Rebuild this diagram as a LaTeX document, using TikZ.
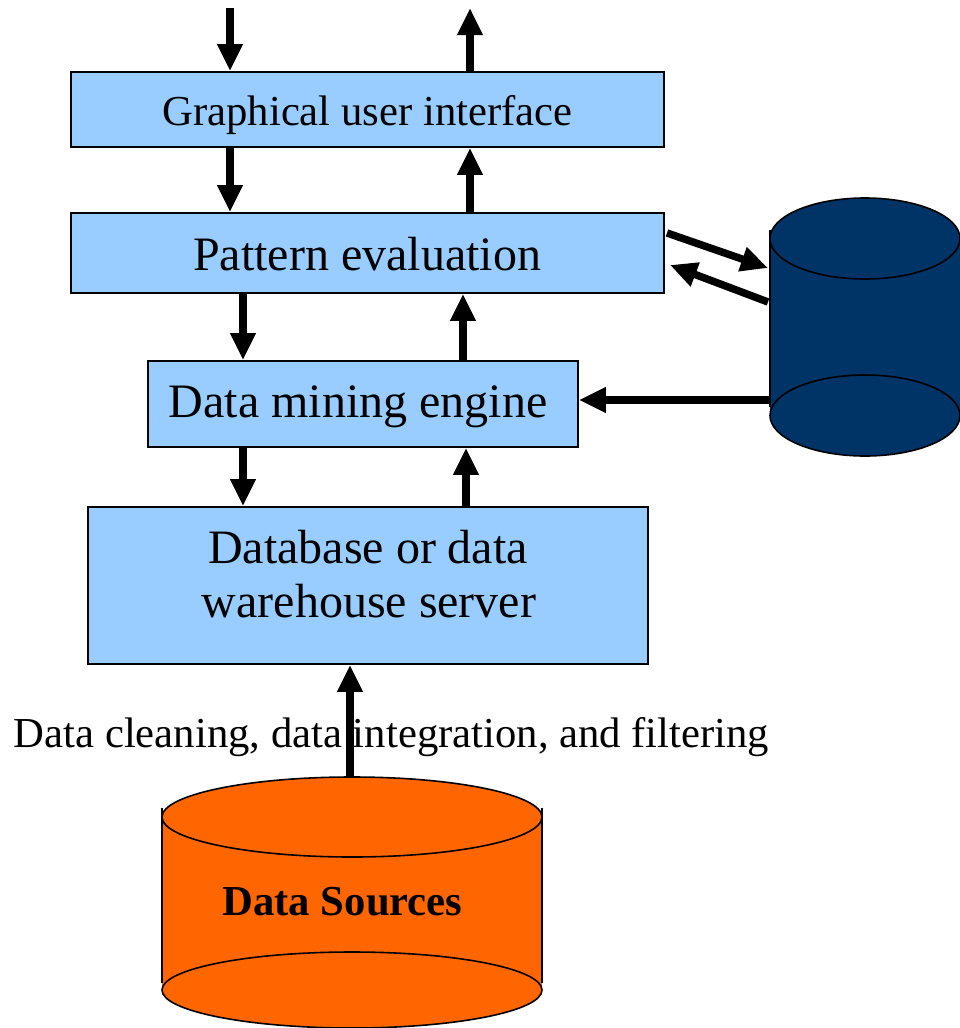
\documentclass[tikz,border=0pt]{standalone}
\usepackage{fontspec}
\setmainfont{Liberation Serif}
\usetikzlibrary{arrows.meta}
\definecolor{boxblue}{HTML}{99CCFF}
\definecolor{navy}{HTML}{003366}
\definecolor{srcorange}{HTML}{FF6600}
\tikzset{
  layer/.style={draw=black, line width=1.6pt, fill=boxblue, inner sep=0pt},
  flow/.style={line width=7.5pt, -{Triangle[length=27pt,width=24pt]}},
  bigtext/.style={font=\fontsize{48}{56}\selectfont},
  midtext/.style={font=\fontsize{42.7}{50}\selectfont},
  drum/.style={draw=black, line width=1.6pt},
}
\begin{document}
\begin{tikzpicture}[x=1pt, y=-1pt]
\useasboundingbox (0,0) rectangle (959,1028);

% processing layers
\node[layer, minimum width=593pt, minimum height=75pt] (gui) at (367.5,109.5) {};
\node[midtext, anchor=base] (guit) at (367.5,125) {Graphical user interface};
\node[layer, minimum width=593pt, minimum height=80pt] (pe) at (367.5,253) {};
\node[bigtext, anchor=base] (pet) at (367,270) {Pattern evaluation};
\node[layer, minimum width=430pt, minimum height=86pt] (dme) at (363,404) {};
\node[bigtext, anchor=base] (dmet) at (358,417) {Data mining engine};
\node[layer, minimum width=560pt, minimum height=157pt] (dbs) at (368,585.5) {};
\node[bigtext, anchor=base] (dbs1) at (368,563) {Database or data};
\node[bigtext, anchor=base] (dbs2) at (369,617) {warehouse server};

% knowledge base drum
\fill[navy] (770,238.5) rectangle (960,415.5);
\draw[drum, fill=navy] (865,415.5) ellipse (95pt and 40.5pt);
\draw[drum] (770,230) -- (770,407);
\draw[drum, fill=navy] (865,238.5) ellipse (95pt and 40.5pt);
\coordinate (kbin) at (768,268);
\coordinate (kbout) at (768,302);
\coordinate (kbside) at (770,400);

% data sources drum
\fill[srcorange] (162,817) rectangle (542,990);
\draw[drum, fill=srcorange] (352,990) ellipse (190pt and 38pt);
\draw[drum] (162,808) -- (162,983);
\draw[drum] (542,808) -- (542,983);
\draw[drum, fill=srcorange] (352,817) ellipse (190pt and 40pt);
\node[font=\fontsize{42.7}{50}\selectfont\bfseries, anchor=base] (src) at (342.5,915) {Data Sources};
\coordinate (srctop) at (350,777);

% preprocessing label
\node[midtext, anchor=base] (prep) at (391.5,747) {Data cleaning, data integration, and filtering};

% user side
\coordinate (userin) at (230,8);
\coordinate (userout) at (470,8);
\draw[flow] (userin) -- (gui.north -| userin);
\draw[flow] (gui.north -| userout) -- (userout);

% downward flow
\draw[flow] (gui.south -| 230,0) -- (pe.north -| 230,0);
\draw[flow] (pe.south -| 243,0) -- (dme.north -| 243,0);
\draw[flow] (dme.south -| 243,0) -- (dbs.north -| 243,0);

% upward flow
\draw[flow] (pe.north -| 470,0) -- (gui.south -| 470,0);
\draw[flow] (dme.north -| 463,0) -- (pe.south -| 463,0);
\draw[flow] (dbs.north -| 466,0) -- (dme.south -| 466,0);
\draw[flow] (srctop) -- (dbs.south -| srctop);

% knowledge base links
\draw[flow] (667,233) -- (kbin);
\draw[flow] (kbout) -- (670,265);
\draw[flow] (kbside) -- (dme.east |- kbside);
\end{tikzpicture}
\end{document}
